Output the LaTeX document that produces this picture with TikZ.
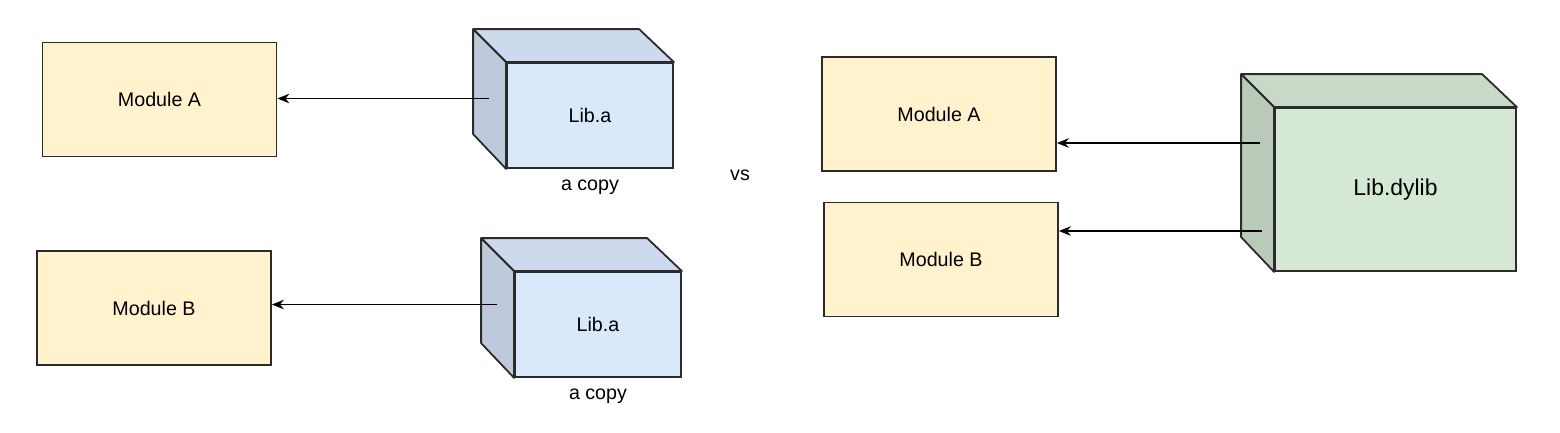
\documentclass[tikz,border=0pt]{standalone}
\usepackage{fontspec}
\setmainfont{Liberation Sans}
\usetikzlibrary{arrows.meta,positioning}
\definecolor{modfill}{HTML}{FFF2CC}
\definecolor{libfill}{HTML}{DAE8FC}
\definecolor{dylibfill}{HTML}{D5E8D4}
\definecolor{edge}{HTML}{2B2B2B}
\begin{document}
\begin{tikzpicture}[x=0.25mm, y=-0.25mm,
  module/.style={draw=edge, fill=modfill, line width=0.45mm, inner sep=0pt,
    minimum width=58.5mm, minimum height=28.5mm, font=\fontsize{14}{16}\selectfont},
  front/.style={draw=edge, line width=0.45mm, inner sep=0pt, font=\fontsize{14}{16}\selectfont},
  face/.style={draw=edge, line width=0.45mm, line join=round},
  label/.style={font=\fontsize{14}{16}\selectfont},
  link/.style={-{Stealth[length=3mm,width=2.4mm]}, line width=0.3mm}]
% Fix the picture size to the reference
\useasboundingbox (0,0) rectangle (1560,432);

% Left side: every module gets its own copy
\node[module] (modA1) at (159.5,99.5) {Module A};
\node[module] (modB1) at (154,308) {Module B};

% First Lib.a cube
\node[front, fill=libfill, minimum width=41.5mm, minimum height=26.25mm] (liba1) at (590,115.5) {Lib.a};
\draw[face, fill=libfill!94!black] (liba1.north west) -- ++(-33,-33) -- ++(166,0) -- (liba1.north east) -- cycle;
\draw[face, fill=libfill!87!black] (liba1.north west) -- ++(-33,-33) -- ++(0,105) -- (liba1.south west) -- cycle;
\node[label, below=1.5mm of liba1] (copy1) {a copy};

% Second Lib.a cube
\node[front, fill=libfill, minimum width=41.5mm, minimum height=26.25mm] (liba2) at (598,324.5) {Lib.a};
\draw[face, fill=libfill!94!black] (liba2.north west) -- ++(-33,-33) -- ++(166,0) -- (liba2.north east) -- cycle;
\draw[face, fill=libfill!87!black] (liba2.north west) -- ++(-33,-33) -- ++(0,105) -- (liba2.south west) -- cycle;
\node[label, below=1.5mm of liba2] (copy2) {a copy};

\coordinate (liba1out) at ([shift={(-17,-17)}]liba1.west);
\coordinate (liba2out) at ([shift={(-17,-20)}]liba2.west);
\draw[link] (liba1out) -- (modA1.east |- liba1out);
\draw[link] (liba2out) -- (modB1.east |- liba2out);

\node[label] (vs) at (740,175) {vs};

% Right side: one shared dynamic library
\node[module] (modA2) at (939,114) {Module A};
\node[module] (modB2) at (941,259.5) {Module B};

\node[front, fill=dylibfill, minimum width=60.25mm, minimum height=40.75mm,
  font=\fontsize{16.3}{18}\selectfont] (dylib) at (1395.5,189.5) {Lib.dylib};
\draw[face, fill=dylibfill!94!black] (dylib.north west) -- ++(-33,-33) -- ++(241,0) -- (dylib.north east) -- cycle;
\draw[face, fill=dylibfill!87!black] (dylib.north west) -- ++(-33,-33) -- ++(0,163) -- (dylib.south west) -- cycle;

\coordinate (dylibout1) at ([shift={(-14,-46.5)}]dylib.west);
\coordinate (dylibout2) at ([shift={(-12,41.5)}]dylib.west);
\draw[link] (dylibout1) -- (modA2.east |- dylibout1);
\draw[link] (dylibout2) -- (modB2.east |- dylibout2);
\end{tikzpicture}
\end{document}
